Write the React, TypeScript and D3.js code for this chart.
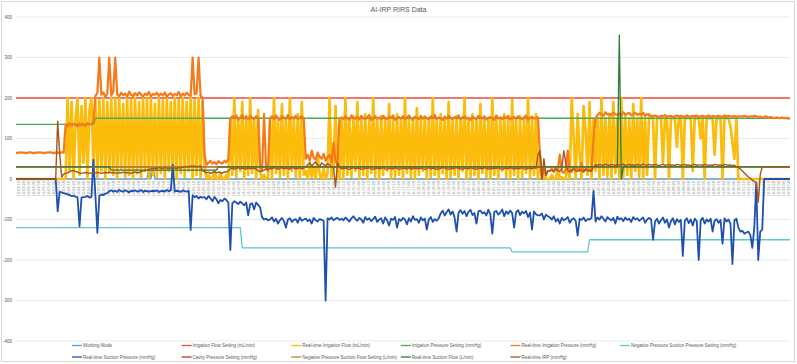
import * as d3 from "d3";
import React from "react";

const W = 797;
const H = 364;
const FONT = "'Liberation Sans', Arial, sans-serif";

const title = "AI-IRP RIRS Data";
const yTicks = [400, 300, 200, 100, 0, -100, -200, -300, -400];
const sampleCount = 391;

// category labels along the time axis (one every few samples)
const labelCount = 155;
const labelStart = new Date(2024, 0, 1, 14, 2, 10);
const fmt = d3.timeFormat("%H:%M:%S");
const xLabels = d3.range(labelCount).map((k) => fmt(new Date(labelStart.getTime() + k * 12000)));

// step settings: [sample index, value]
const workingMode: [number, number][] = [[0, 0], [66, 0], [67, 35], [68, 0], [69, 35], [70, 0], [390, 0]];
const irrigationFlowSetting: [number, number][] = [[0, 200], [390, 200]];
const irrigationPressureSetting: [number, number][] = [[0, 135], [39, 135], [40, 150], [390, 150]];
const suctionPressureSetting: [number, number][] = [[0, -120], [113, -120], [114, -170], [249, -170], [250, -180], [288, -180], [289, -150], [390, -150]];
const cavityPressureSetting: [number, number][] = [[0, 30], [390, 30]];
const suctionFlowSetting: [number, number][] = [[0, 30], [390, 30]];
const realtimeSuctionFlow: [number, number][] = [[0, 30], [47, 30], [48, 22], [101, 22], [102, 30], [303, 30], [304, 355], [305, 0], [306, 30], [390, 30]];

// sampled real-time values
const realtimeIrrigationFlow = [
  0, 0, 0, 0, 0, 0, 0, 0, 0, 0, 0, 0, 0, 0, 0, 0, 0, 0, 0, 0, 0, 0, 0, 0, 0,
  0, 200, 20, 190, 0, 150, 200, 10, 180, 40, 200, 0, 170, 200, 30,
  200, 5, 195, 20, 200, 0, 190, 15, 200, 10, 198, 0, 200, 25, 185, 5, 200, 10, 195, 0,
  200, 15, 190, 5, 200, 20, 198, 0, 200, 10, 185, 5, 200, 15, 195, 0, 200, 20, 190, 10,
  200, 0, 195, 15, 200, 5, 190, 20, 200, 0, 195, 10, 200, 5, 190,
  30, 0, 10, 0, 0, 20, 0, 0, 15, 0, 0, 10, 0,
  150, 10, 200, 5, 150, 20, 190, 0, 155, 10, 200, 15, 150, 0, 170,
  20, 0, 10, 0, 5,
  150, 0, 200, 15, 150, 5, 185, 10, 150, 0, 200, 20, 150, 5, 160, 0, 190, 10,
  20, 0, 40, 5, 30, 0, 60, 10, 0, 25, 0, 15,
  200, 0, 30, 180, 10, 0,
  150, 0, 200, 10, 150, 5, 155, 20, 190, 0, 150, 10, 160, 0, 150, 15, 200, 5, 150, 0,
  155, 10, 150, 20, 185, 0, 150, 5, 160, 10, 150, 0, 200, 15, 150, 5, 150, 0, 175, 10,
  150, 20, 155, 0, 150, 5, 200, 10, 150, 0, 160, 15, 150, 0, 190, 5, 150, 10, 155, 0,
  150, 20, 200, 0, 150, 5, 160, 10, 150, 0, 185, 15, 150, 5, 150, 0, 200, 10, 155, 0,
  150, 20, 160, 5, 150, 0, 195, 10, 150, 0, 155, 5, 150, 15, 200, 0, 150, 10, 160, 0,
  60, 0, 20, 0, 0,
  0, 10, 0, 0, 30, 0, 5, 0, 0, 40, 0, 200, 100, 0, 160, 60, 0, 180, 120, 10, 190, 0, 150, 20,
  150, 0, 200, 10, 150, 5, 160, 0, 190, 15, 150, 0, 200, 5, 155, 10, 150, 0, 185, 20, 150, 5, 200, 0, 150, 10, 160,
  150, 150, 0, 150, 150, 150, 40, 150, 150, 0, 150, 150, 150, 80, 150, 150, 0, 150, 150, 150,
  150, 20, 150, 150, 150, 100, 150, 0, 150, 150, 150, 150, 60, 150, 150, 150, 0, 150, 150, 150,
  130, 90, 50, 150, 0,
  0, 0, 0, 0, 0, 0, 0, 0, 0, 0, 0, 0, 0, 0, 0, 0, 0, 0, 0, 0, 0, 0, 0, 0, 0, 0,
];

const realtimeIrrigationPressure = [
  65, 64, 66, 65, 65, 64, 65, 66, 65, 64, 65, 65, 66, 65, 64, 65, 65, 66, 65, 64, 65, 65, 64, 66, 65,
  135, 130, 138, 132, 136, 134, 130, 137, 133, 135, 131, 138, 134, 136, 140,
  205, 212, 300, 208, 214, 203, 210, 300, 206, 215, 300, 209, 204, 213, 207, 211, 203, 216, 208, 205,
  212, 206, 214, 209, 203, 211, 207, 215, 204, 210, 208, 213, 205, 211, 206, 214, 203, 209, 212, 205,
  210, 207, 215, 204, 211, 206, 213, 208, 205, 300, 209, 212, 300, 206, 200,
  60, 35, 40, 45, 38, 42, 36, 44, 40, 38, 45, 41, 50,
  148, 155, 150, 157, 146, 152, 158, 149, 154, 147, 156, 151, 148, 155, 150,
  30, 20, 160, 25, 20,
  150, 155, 148, 157, 150, 146, 156, 151, 149, 158, 147, 153, 150, 156, 148, 152, 155, 150,
  50, 60, 45, 70, 52, 48, 65, 55, 50, 62, 45, 55,
  60, 40, 90, 45, 35, 150,
  152, 148, 155, 150, 146, 157, 151, 149, 154, 147, 156, 150, 148, 153, 158, 146, 151, 155, 149, 152,
  147, 156, 150, 148, 154, 151, 157, 146, 150, 153, 149, 155, 148, 152, 157, 150, 146, 154, 151, 148,
  156, 149, 153, 150, 147, 155, 151, 158, 148, 152, 150, 146, 154, 149, 156, 151, 148, 153, 150, 157,
  147, 152, 155, 149, 151, 146, 154, 150, 148, 156, 152, 149, 155, 147, 151, 153, 150, 146, 157, 149,
  152, 148, 154, 150, 156, 147, 151, 153, 149, 155, 150, 148, 152, 157, 146, 151, 154, 149, 150, 153,
  60, 0, 30, 10, 20,
  20, 25, 18, 30, 22, 60, 20, 15, 25, 70, 20, 18, 30, 22, 25, 20, 40, 18, 25, 30, 20, 22, 100, 150,
  158, 163, 160, 156, 165, 159, 161, 157, 164, 160, 158, 162, 156, 165, 159, 161, 163, 157, 160, 164, 158, 161, 159, 163, 156, 160, 158,
  156, 154, 157, 155, 153, 156, 155, 158, 154, 155, 156, 153, 155, 157, 154, 156, 155, 153, 157, 155,
  154, 156, 155, 157, 153, 155, 156, 154, 155, 157, 153, 156, 154, 155, 156, 155, 153, 157, 154, 156,
  155, 154, 156, 153, 155,
  155, 154, 156, 155, 153, 155, 154, 156, 155, 153, 154, 152, 153, 155, 151, 153, 152, 150, 152, 151,
  150, 152, 150, 151, 149, 150,
];

const realtimeSuctionPressure = [
  0, 0, 0, 0, 0, 0, 0, 0, 0, 0, 0, 0, 0, 0, 0, 0, 0, 0, 0, 0, 0, -80, -32, -33, -35,
  -36, -38, -40, -42, -41, -44, -45, -117, -46, -45, -44, -42, -46, -44, 47,
  -40, -133, -42, -38, -40, -36, -35, -30, -28, -31, -29, -32, -27, -30, -31, -28, -30, -33, -29, -30,
  -28, -31, -30, -27, -32, -29, -30, -31, -30, -29, -30, -28, -32, -30, -29, -31, -27, -30, -28, 35,
  -31, -29, -30, -32, -28, -30, -31, -29, -126, -40, -45, -42, -48, -44, -46,
  -45, -50, -42, -48, -55, -44, -50, -60, -52, -55, -48, -52, -58,
  -175, -60, -55, -58, -62, -56, -60, -65, -58, -90, -62, -60, -75, -58, -64,
  -70, -95, -100, -98, -102,
  -100, -95, -105, -98, -110, -102, -96, -104, -120, -100, -97, -106, -101, -99, -108, -95, -103, -100,
  -98, -104, -100, -110, -96, -102, -105, -99, -101, -103, -300, -97,
  -100, -95, -102, -98, -96, -101,
  -98, -102, -95, -100, -105, -97, -92, -99, -103, -96, -100, -108, -94, -101, -97, -104, -99, -93, -106, -100,
  -97, -110, -95, -102, -115, -98, -101, -94, -120, -99, -103, -96, -100, -112, -97, -105, -92, -101, -99, -108,
  -95, -102, -98, -125, -100, -94, -106, -99, -103, -97, -85, -78, -90, -82, -75, -88, -80, -95, -130, -83,
  -77, -86, -79, -92, -81, -76, -89, -84, -110, -80, -78, -85, -82, -90, -76, -87, -135, -81, -79, -88,
  -83, -75, -92, -80, -86, -78, -84, -120, -82, -77, -89, -81, -85, -79, -94, -83, -125, -80, -87, -90,
  -90, -85, -100, -88, -92,
  -95, -100, -92, -105, -98, -110, -96, -102, -99, -94, -108, -100, -97, -103, -140, -98, -101, -95, -104, -99, -100, -96, -30, -105,
  -95, -100, -92, -98, -105, -94, -99, -102, -96, -110, -93, -100, -97, -104, -95, -101, -98, -106, -94, -100, -97, -103, -99, -95, -108, -100, -96,
  -100, -150, -105, -98, -110, -102, -95, -108, -100, -120, -104, -97, -112, -99, -106, -101, -190, -103, -97, -109,
  -100, -115, -98, -104, -200, -102, -96, -110, -100, -105, -98, -130, -103, -99, -108, -101, -160, -97, -105, -100,
  -110, -210, -102, -98, -120,
  -130, -128, -135, -132, -130, -138, -170, -120, -10, -200, -130, -125, 0, 0, 0, 0, 0, 0, 0, 0, 0, 0, 0, 0, 0, 0,
];

const realtimeIRP = [
  0, 0, 0, 0, 0, 0, 0, 0, 0, 0, 0, 0, 0, 0, 0, 0, 0, 0, 0, 0, 0, 143, 63, 5, 12,
  14, 15, 18, 20, 21, 19, 17, 15, 14, 15, 16, 15, 14, 15, 16,
  15, 16, 15, 14, 15, 16, 15, 17, 15, 16, 15, 14, 16, 15, 17, 15, 16, 15, 14, 16,
  17, 15, 16, 18, 20, 21, 22, 24, 25, 26, 27, 26, 28, 27, 26, 28, 27, 26, 27, 28,
  27, 26, 28, 27, 29, 30, 31, 30, 32, 31, 32, 30, 31, 32, 20,
  18, 15, 17, 14, 16, 18, 15, 17, 16, 14, 18, 17, 20,
  25, 27, 24, 26, 28, 25, 27, 26, 24, 28, 25, 27, 26, 25, 20,
  18, 20, 22, 25, 24,
  26, 25, 28, 27, 24, 26, 28, 25, 27, 26, 24, 28, 27, 25, 26, 28, 25, 27,
  30, 35, 40, 32, 38, 42, 35, 30, 40, 36, 33, 38,
  35, 30, 28, -20, 40, 30,
  25, 26, 27, 25, 24, 26, 28, 25, 27, 26, 24, 25, 27, 26, 28, 25, 24, 26, 27, 25,
  26, 28, 25, 24, 27, 26, 25, 28, 26, 24, 25, 27, 26, 25, 28, 24, 26, 27, 25, 26,
  27, 25, 24, 26, 28, 25, 27, 26, 24, 25, 26, 28, 27, 25, 24, 26, 25, 27, 28, 26,
  25, 24, 27, 26, 25, 28, 26, 25, 24, 27, 26, 25, 28, 27, 24, 26, 25, 27, 26, 28,
  25, 24, 26, 27, 25, 28, 26, 24, 27, 25, 26, 28, 25, 24, 27, 26, 25, 28, 26, 60,
  70, 0, 50, 10, 20,
  20, 22, 18, 25, 20, 19, 24, 70, 40, 21, 18, 22, 25, 20, 19, 23, 21, 18, 24, 20, 22, 19, 30, 35,
  34, 36, 35, 33, 37, 35, 34, 36, 35, 33, 36, 34, 35, 37, 33, 35, 36, 34, 35, 33, 36, 35, 34, 37, 35, 34, 36,
  35, 34, 36, 35, 33, 35, 36, 34, 35, 36, 34, 35, 33, 36, 35, 34, 35, 36, 34, 35,
  33, 35, 36, 34, 35, 35, 34, 36, 35, 33, 35, 34, 36, 35, 34, 35, 33, 36, 35, 34,
  35, 33, 34, 30, 28,
  25, 20, 15, 10, 5, 2, -3, -6, -8, -57, 10, 30, 30, 30, 30, 30, 30, 30, 30, 30, 30, 30, 30, 30, 30, 30,
];

const indexed = (vals: number[]) => vals.map((v, i) => [i, v] as [number, number]);

type Series = { name: string; color: string; width: number; points: [number, number][] };

const series: Series[] = [
  { name: "Working Mode", color: "#5b9bd5", width: 1.3, points: workingMode },
  { name: "Irrigation Flow Setting (mL/min)", color: "#ee4b3b", width: 1.3, points: irrigationFlowSetting },
  { name: "Real-time Irrigation Flow (mL/min)", color: "#fbbc0c", width: 2.7, points: indexed(realtimeIrrigationFlow) },
  { name: "Irrigation Pressure Setting (mmHg)", color: "#44ad55", width: 1.3, points: irrigationPressureSetting },
  { name: "Real-time Irrigation Pressure (mmHg)", color: "#f57a1c", width: 2.2, points: indexed(realtimeIrrigationPressure) },
  { name: "Negative Pressure Suction Pressure Setting (mmHg)", color: "#5cc8d0", width: 1.3, points: suctionPressureSetting },
  { name: "Real-time Suction Pressure (mmHg)", color: "#1f50b0", width: 1.8, points: indexed(realtimeSuctionPressure) },
  { name: "Cavity Pressure Setting (mmHg)", color: "#c0302a", width: 1.3, points: cavityPressureSetting },
  { name: "Negative Pressure Suction Flow Setting (L/min)", color: "#b58a2c", width: 1.3, points: suctionFlowSetting },
  { name: "Real-time Suction Flow (L/min)", color: "#2e7a36", width: 1.3, points: realtimeSuctionFlow },
  { name: "Real-time IRP (mmHg)", color: "#a4561f", width: 1.4, points: indexed(realtimeIRP) },
];

export default function App() {
  const left = 16;
  const right = 790;
  const top = 17;
  const bottom = 341;

  const x = d3.scaleLinear().domain([0, sampleCount - 1]).range([left, right]);
  const y = d3.scaleLinear().domain([-400, 400]).range([bottom, top]);
  const xl = d3.scalePoint<string>().domain(xLabels).range([left + 2, right - 2]);

  const line = d3
    .line<[number, number]>()
    .x((d) => x(d[0]))
    .y((d) => y(d[1]));

  return (
    <svg
      width={W}
      height={H}
      style={{ position: "absolute", left: 0, top: 0, background: "#fff" }}
      fontFamily={FONT}
    >
      <rect x={1.5} y={1.5} width={793} height={360} fill="#fff" stroke="#d9d9d9" />
      <text x={W / 2} y={12} textAnchor="middle" fontSize={7} fill="#595959">
        {title}
      </text>

      {yTicks.map((t) => (
        <g key={t}>
          <line x1={left} x2={right} y1={y(t)} y2={y(t)} stroke="#e6e6e6" strokeWidth={0.8} />
          <text x={12} y={y(t)} dy="0.35em" textAnchor="end" fontSize={4.5} fill="#595959">
            {t}
          </text>
        </g>
      ))}

      {xLabels.map((l) => (
        <text
          key={l}
          transform={`translate(${(xl(l) ?? 0) + 1.5},${y(0) + 2}) rotate(-90)`}
          textAnchor="end"
          fontSize={4}
          fill="#8c8c8c"
        >
          {l}
        </text>
      ))}

      {series.map((s) => (
        <path key={s.name} d={line(s.points) ?? ""} fill="none" stroke={s.color} strokeWidth={s.width} strokeLinejoin="round" />
      ))}

      {series.map((s, k) => {
        const col = k % 6;
        const row = Math.floor(k / 6);
        const lx = 72 + col * 109.6;
        const ly = 345.5 + row * 11.5;
        return (
          <g key={"lg" + s.name}>
            <line x1={lx} x2={lx + 10} y1={ly} y2={ly} stroke={s.color} strokeWidth={1.3} />
            <text x={lx + 11} y={ly} dy="0.35em" fontSize={4.5} fill="#595959">
              {s.name}
            </text>
          </g>
        );
      })}
    </svg>
  );
}
